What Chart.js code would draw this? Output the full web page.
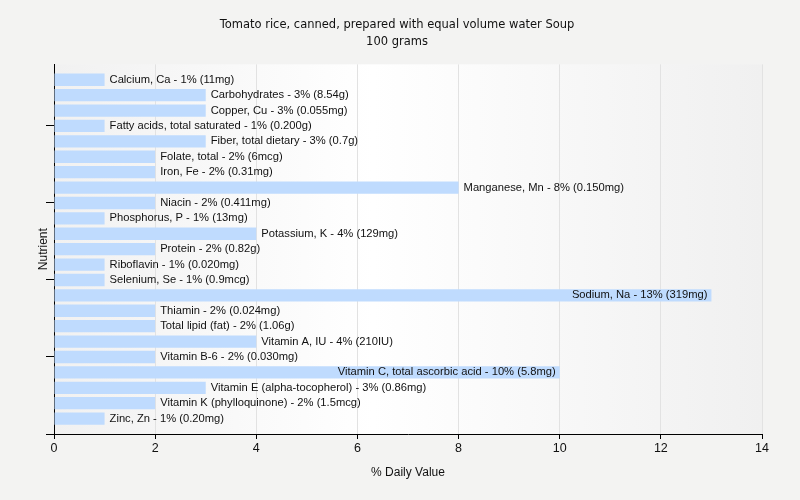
<!DOCTYPE html>
<html>
<head>
<meta charset="utf-8">
<script src="https://cdn.jsdelivr.net/npm/chart.js@4"></script>
<style>
  html, body { margin: 0; padding: 0; background: #f3f3f2; }
  #wrap { width: 800px; height: 500px; }
</style>
</head>
<body>
<div id="wrap"><canvas id="c" width="800" height="500"></canvas></div>
<script>
const categories = [
  "Calcium, Ca", "Carbohydrates", "Copper, Cu", "Fatty acids, total saturated",
  "Fiber, total dietary", "Folate, total", "Iron, Fe", "Manganese, Mn", "Niacin",
  "Phosphorus, P", "Potassium, K", "Protein", "Riboflavin", "Selenium, Se",
  "Sodium, Na", "Thiamin", "Total lipid (fat)", "Vitamin A, IU", "Vitamin B-6",
  "Vitamin C, total ascorbic acid", "Vitamin E (alpha-tocopherol)",
  "Vitamin K (phylloquinone)", "Zinc, Zn"
];
const dailyValues = [1, 3, 3, 1, 3, 2, 2, 8, 2, 1, 4, 2, 1, 1, 13, 2, 2, 4, 2, 10, 3, 2, 1];
const amounts = [
  "11mg", "8.54g", "0.055mg", "0.200g", "0.7g", "6mcg", "0.31mg", "0.150mg", "0.411mg",
  "13mg", "129mg", "0.82g", "0.020mg", "0.9mcg", "319mg", "0.024mg", "1.06g", "210IU",
  "0.030mg", "5.8mg", "0.86mg", "1.5mcg", "0.20mg"
];
const xTicks = [0, 2, 4, 6, 8, 10, 12, 14];
const titleLines = ["Tomato rice, canned, prepared with equal volume water Soup", "100 grams"];

// pad with an empty slot at both ends so the axis has space above/below rows
const labels = ["", ...categories, ""];
const values = [null, ...dailyValues, null];
const texts = ["", ...categories.map((c, i) => `${c} - ${dailyValues[i]}% (${amounts[i]})`), ""];

const bgPlugin = {
  id: 'bgPlugin',
  beforeDraw(chart) {
    const { ctx, chartArea: a } = chart;
    ctx.save();
    const g = ctx.createLinearGradient(a.left, 0, a.right, 0);
    g.addColorStop(0, '#f1f1f1');
    g.addColorStop(0.45, '#ffffff');
    g.addColorStop(1, '#f0f0f0');
    ctx.fillStyle = g;
    ctx.fillRect(a.left, a.top, a.right - a.left, a.bottom - a.top);
    ctx.restore();
  }
};

const labelPlugin = {
  id: 'labelPlugin',
  afterDatasetsDraw(chart) {
    const { ctx, chartArea: a } = chart;
    const meta = chart.getDatasetMeta(0);
    ctx.save();
    ctx.font = '11.2px "Liberation Sans", Arial, sans-serif';
    ctx.fillStyle = '#111';
    ctx.textBaseline = 'middle';
    meta.data.forEach((bar, i) => {
      if (values[i] == null) return;
      const t = texts[i];
      const w = ctx.measureText(t).width;
      if (bar.x + 5 + w > a.right) {
        ctx.textAlign = 'right';
        ctx.fillText(t, bar.x - 4, bar.y);
      } else {
        ctx.textAlign = 'left';
        ctx.fillText(t, bar.x + 5, bar.y);
      }
    });
    ctx.restore();
  }
};

new Chart(document.getElementById('c'), {
  type: 'bar',
  data: {
    labels: labels,
    datasets: [{
      data: values,
      backgroundColor: 'rgb(191,219,254)',
      borderWidth: 0,
      barPercentage: 0.8,
      categoryPercentage: 1.0
    }]
  },
  options: {
    indexAxis: 'y',
    responsive: false,
    animation: false,
    devicePixelRatio: 1,
    layout: { padding: { left: 32, right: 38, top: 0, bottom: 16 } },
    plugins: {
      legend: { display: false },
      tooltip: { enabled: false },
      title: {
        display: true,
        text: titleLines,
        color: '#111',
        font: { family: '"DejaVu Sans", Verdana, sans-serif', size: 11.5, weight: 'normal', lineHeight: 1.45 },
        padding: { top: 17, bottom: 14 }
      }
    },
    scales: {
      x: {
        type: 'linear',
        min: 0,
        max: 14,
        afterBuildTicks(scale) { scale.ticks = xTicks.map(v => ({ value: v })); },
        afterFit(scale) { scale.height = 50; },
        grid: { color: '#e2e2e2', tickColor: '#000', tickLength: 5, lineWidth: 1 },
        border: { display: true, color: '#000', width: 1 },
        ticks: { color: '#111', padding: 2, font: { family: '"Liberation Sans", Arial, sans-serif', size: 12.5 } },
        title: { display: true, text: '% Daily Value', color: '#111', font: { family: '"Liberation Sans", Arial, sans-serif', size: 12 } }
      },
      y: {
        type: 'category',
        offset: false,
        afterFit(scale) { scale.width = 22; },
        grid: {
          offset: false,
          drawOnChartArea: false,
          drawTicks: true,
          tickLength: 8,
          tickColor: (ctx) => (ctx.index % 5 === 4 ? '#000' : 'rgba(0,0,0,0)')
        },
        border: { display: true, color: '#000', width: 1 },
        ticks: { autoSkip: false, callback: () => '', padding: 0 },
        title: { display: true, text: 'Nutrient', color: '#111', font: { family: '"Liberation Sans", Arial, sans-serif', size: 12 } }
      }
    }
  },
  plugins: [bgPlugin, labelPlugin]
});
</script>
</body>
</html>
